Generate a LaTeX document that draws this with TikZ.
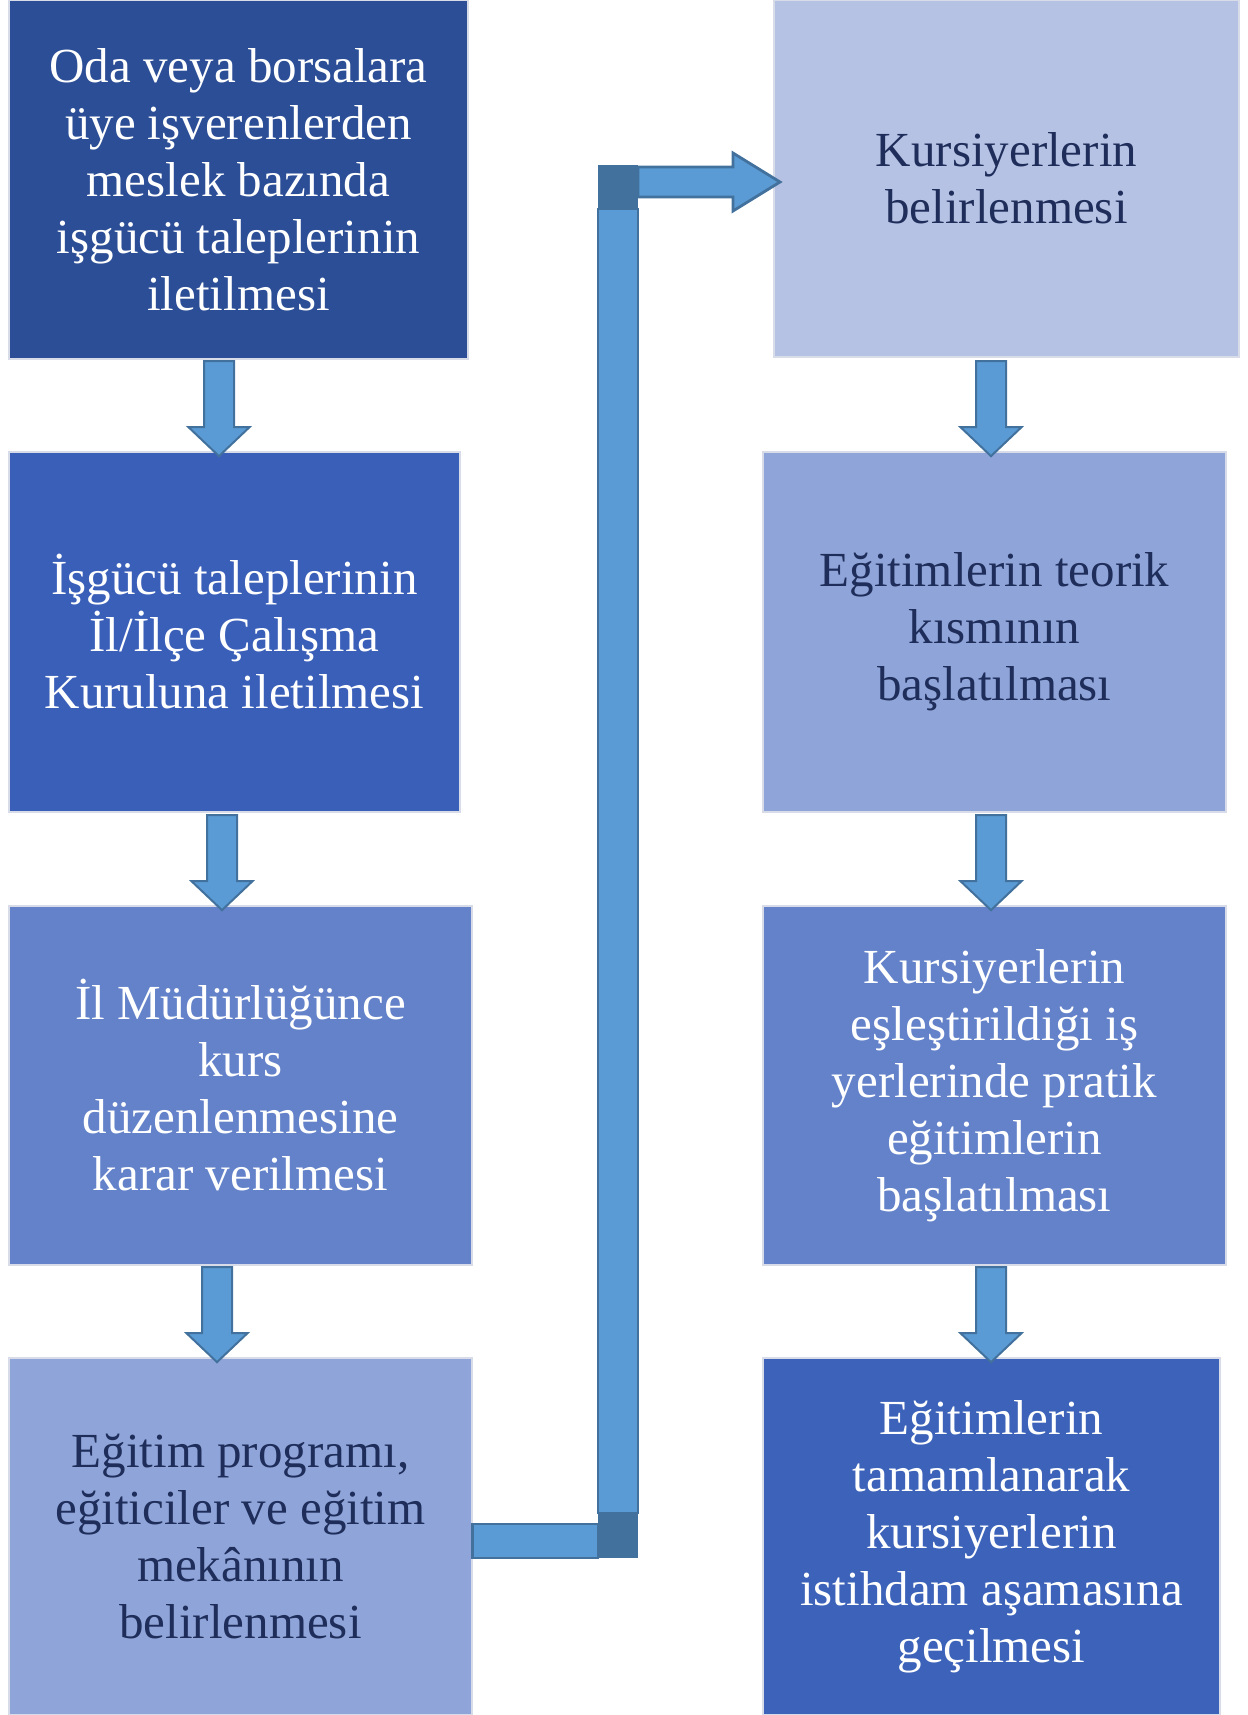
\documentclass[tikz,border=0pt]{standalone}
\usepackage{fontspec}
\setmainfont{Liberation Serif}
\usetikzlibrary{shapes.arrows}
\definecolor{stepA}{RGB}{44,78,150}
\definecolor{stepB}{RGB}{58,95,185}
\definecolor{stepC}{RGB}{99,130,202}
\definecolor{stepD}{RGB}{143,164,216}
\definecolor{stepE}{RGB}{182,194,228}
\definecolor{stepF}{RGB}{60,99,185}
\definecolor{navytext}{RGB}{30,45,90}
\definecolor{boxline}{RGB}{215,220,232}
\definecolor{arrowfill}{RGB}{91,155,213}
\definecolor{arrowline}{RGB}{65,113,156}
\tikzset{
  stepbox/.style={
    rectangle, inner sep=0pt, draw=boxline, line width=0.8pt,
    align=center, text=white,
    font=\fontsize{24.5}{28.5}\selectfont
  },
  lighttext/.style={text=navytext},
  dnarrow/.style={
    single arrow, rotate=-90, draw=arrowline, fill=arrowfill, line width=1pt,
    inner sep=0pt, text height=14pt, text depth=0pt,
    minimum height=47.5pt, minimum width=29.5pt,
    single arrow head extend=7.75pt, single arrow tip angle=93
  },
  bar/.style={draw=arrowline, fill=arrowfill, line width=1.4pt},
  corner/.style={fill=arrowline}
}
\begin{document}
\begin{tikzpicture}[x=0.5pt,y=-0.5pt]
  \useasboundingbox (0,0) rectangle (1248,1715);

  % left column
  \node[stepbox, fill=stepA, minimum width=229.5pt, minimum height=179.5pt] (b1) at (238.5,179.5)
    {Oda veya borsalara\\üye işverenlerden\\meslek bazında\\işgücü taleplerinin\\iletilmesi};
  \node[stepbox, fill=stepB, minimum width=225.5pt, minimum height=180pt] (b2) at (234.5,632)
    {İşgücü taleplerinin\\İl/İlçe Çalışma\\Kuruluna iletilmesi};
  \node[stepbox, fill=stepC, minimum width=231.5pt, minimum height=179.5pt] (b3) at (240.5,1085.5)
    {İl Müdürlüğünce\\kurs\\düzenlenmesine\\karar verilmesi};
  \node[stepbox, lighttext, fill=stepD, minimum width=231.5pt, minimum height=178.5pt] (b4) at (240.5,1536.5)
    {Eğitim programı,\\eğiticiler ve eğitim\\mekânının\\belirlenmesi};

  % right column
  \node[stepbox, lighttext, fill=stepE, minimum width=232.5pt, minimum height=178.5pt] (b5) at (1006.5,178.5)
    {Kursiyerlerin\\belirlenmesi};
  \node[stepbox, lighttext, fill=stepD, minimum width=231.5pt, minimum height=180pt] (b6) at (994.5,632)
    {Eğitimlerin teorik\\kısmının\\başlatılması};
  \node[stepbox, fill=stepC, minimum width=231.5pt, minimum height=179.5pt] (b7) at (994.5,1085.5)
    {Kursiyerlerin\\eşleştirildiği iş\\yerlerinde pratik\\eğitimlerin\\başlatılması};
  \node[stepbox, fill=stepF, minimum width=228.5pt, minimum height=178.5pt] (b8) at (991.5,1536.5)
    {Eğitimlerin\\tamamlanarak\\kursiyerlerin\\istihdam aşamasına\\geçilmesi};

  % down arrows
  \node[dnarrow] (a12) at (219,401.5) {};
  \node[dnarrow] (a23) at (222,855.5) {};
  \node[dnarrow] (a34) at (217,1307.5) {};
  \node[dnarrow] (a56) at (991,401.5) {};
  \node[dnarrow] (a67) at (991,855.5) {};
  \node[dnarrow] (a78) at (991,1307.5) {};

  % elbow from b4 to b5
  \draw[bar] (b4.east |- 0,1524) rectangle (598,1558);
  \draw[bar] (598,209) rectangle (638,1513);
  \draw[bar] (638,167) -- (733,167) -- (733,153) -- (780,182)
    -- (733,211) -- (733,197) -- (638,197) -- cycle;
  \fill[corner] (598,1513) rectangle (638,1558);
  \fill[corner] (598,165) rectangle (638,209);
\end{tikzpicture}
\end{document}
